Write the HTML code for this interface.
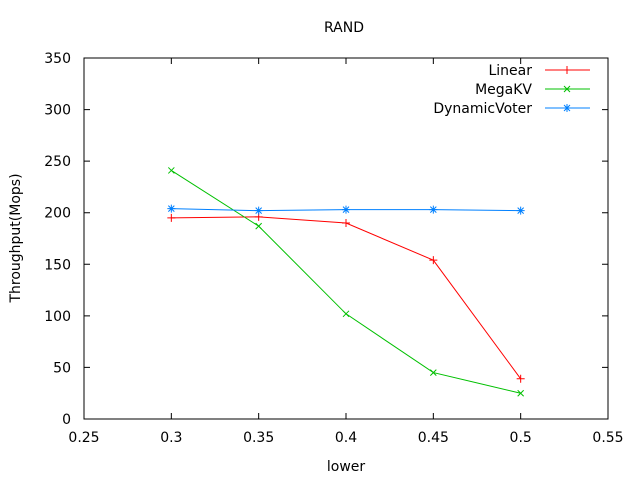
<!DOCTYPE html>
<html><head><meta charset="utf-8"><style>
body{margin:0;background:#fff}
svg{display:block;font-family:"DejaVu Sans",sans-serif;font-size:14px}
</style></head><body>
<svg id="chart" width="640" height="480">
<text x="344" y="32" text-anchor="middle">RAND</text>
<text x="346" y="471" text-anchor="middle">lower</text>
<text transform="translate(20,238) rotate(-90)" text-anchor="middle">Throughput(Mops)</text>
<rect x="84" y="58" width="524" height="361" fill="none" stroke="#000" stroke-width="1"/>
<g id="axes"></g>
<g id="series"></g>
<g id="legend"></g>
</svg>
<script>
const xTicks=[0.25,0.3,0.35,0.4,0.45,0.5,0.55];
const xTickLabels=["0.25","0.3","0.35","0.4","0.45","0.5","0.55"];
const yTicks=[0,50,100,150,200,250,300,350];
const xValues=[0.3,0.35,0.4,0.45,0.5];
const linearValues=[195,196,190,154,39];
const megakvValues=[241,187,102,45,25];
const dynamicVoterValues=[204,202,203,203,202];
const seriesNames=["Linear","MegaKV","DynamicVoter"];
const seriesColors=["#ff0000","#00c000","#0080ff"];
const seriesMarks=["plus","cross","star"];

const X=v=>84+(v-0.25)/0.3*524;
const Y=v=>419-v/350*361;
const NS="http://www.w3.org/2000/svg";
function mk(tag,attrs,parent){const e=document.createElementNS(NS,tag);for(const k in attrs)e.setAttribute(k,attrs[k]);parent.appendChild(e);return e;}
const axes=document.getElementById('axes');
xTicks.forEach((t,i)=>{
  const x=X(t);
  const a=mk('path',{d:`M${x},419v-6M${x},58v6`,stroke:'#000'},axes);
  
  
  const l=mk('text',{x:x,y:442,'text-anchor':'middle'},axes);l.textContent=xTickLabels[i];
  
  
});
yTicks.forEach(t=>{
  const y=Y(t);
  const a=mk('path',{d:`M84,${y}h6M608,${y}h-6`,stroke:'#000'},axes);
  
  
  const l=mk('text',{x:71,y:y+5,'text-anchor':'end'},axes);l.textContent=String(t);
  
  
});
function marker(kind,x,y,c,g){
  let d;
  if(kind==='plus')d=`M${x-4},${y}h8M${x},${y-4}v8`;
  else if(kind==='cross')d=`M${x-3},${y-3}l6,6M${x-3},${y+3}l6,-6`;
  else d=`M${x-4},${y}h8M${x},${y-4}v8M${x-3},${y-3}l6,6M${x-3},${y+3}l6,-6`;
  const m=mk('path',{d:d,stroke:c,fill:'none'},g);
  
  
}
const all=[linearValues,megakvValues,dynamicVoterValues];
const sg=document.getElementById('series');
all.forEach((vals,si)=>{
  const c=seriesColors[si];
  const pts=vals.map((v,i)=>X(xValues[i])+','+Y(v)).join(' ');
  const pl=mk('polyline',{points:pts,fill:'none',stroke:c,'stroke-width':1},sg);
  
  
  vals.forEach((v,i)=>marker(seriesMarks[si],X(xValues[i]),Y(v),c,sg));
});
const lg=document.getElementById('legend');
seriesNames.forEach((n,i)=>{
  const y=70+i*19;
  const t=mk('text',{x:532,y:y+5,'text-anchor':'end'},lg);t.textContent=n;
  
  
  const l=mk('path',{d:`M545,${y}h45`,stroke:seriesColors[i]},lg);
  
  
  marker(seriesMarks[i],567,y,seriesColors[i],lg);
});
</script>
</body></html>
